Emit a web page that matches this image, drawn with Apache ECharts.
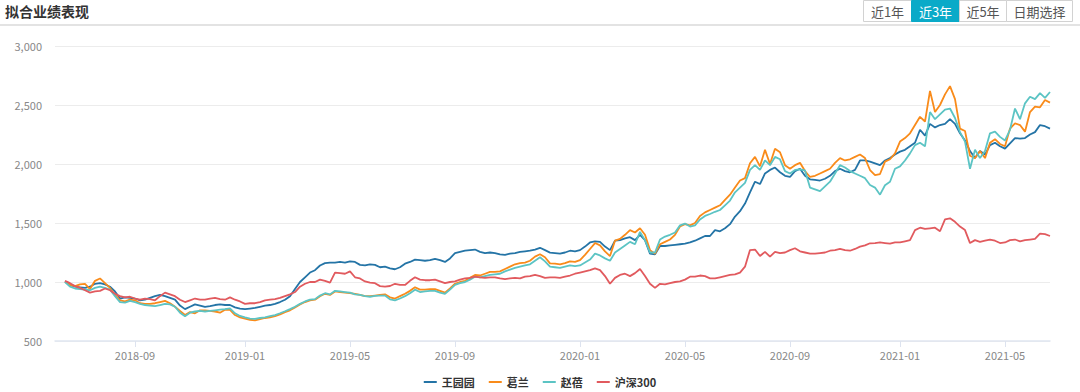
<!DOCTYPE html>
<html>
<head>
<meta charset="utf-8">
<script src="https://cdn.jsdelivr.net/npm/echarts@6/dist/echarts.min.js"></script>
<style>
  html, body { margin: 0; padding: 0; background: #fff; }
  #main { width: 1080px; height: 392px; }
</style>
</head>
<body>
<div id="main"></div>
<script>
// x 轴刻度（月初）及其所在的类目下标
const tickLabels = ['2018-09', '2019-01', '2019-05', '2019-09', '2020-01', '2020-05', '2020-09', '2021-01', '2021-05'];
const tickIndex = [16, 38, 59, 80, 105, 126, 147, 169, 190];
const pointCount = 200;
const leadGap = 2; // 数据开始前的空位

const seriesNames = ['王园园', '葛兰', '赵蓓', '沪深300'];

const wangYuanyuan = [
  1005, 975, 960, 955, 950, 960, 985, 990, 980, 960, 920, 860, 870, 865, 860, 845, 850, 865, 880, 890, 880, 865, 850, 800, 770, 790, 810, 800, 790, 795, 805, 810, 805,
  805, 785, 775, 770, 775, 780, 790, 800, 805, 815, 830, 850, 880, 940, 1000, 1040, 1080, 1100, 1140, 1160, 1165, 1165, 1170, 1165, 1175, 1170, 1145, 1140, 1150, 1145, 1125, 1130,
  1116, 1108, 1125, 1155, 1170, 1190, 1185, 1180, 1185, 1195, 1185, 1170, 1200, 1245, 1255, 1265, 1270, 1275, 1255, 1245, 1250, 1245, 1235, 1230, 1240, 1245, 1255, 1260, 1265, 1275, 1290, 1270,
  1249, 1245, 1240, 1250, 1265, 1260, 1270, 1300, 1335, 1345, 1340, 1300, 1270, 1350, 1355, 1370, 1380, 1355, 1400, 1355, 1240, 1235, 1305, 1305, 1310, 1315, 1320, 1325, 1335, 1350, 1370, 1390,
  1390, 1440, 1430, 1455, 1490, 1555, 1600, 1665, 1760, 1850, 1830, 1920, 1950, 1970, 1930, 1900, 1890, 1940, 1960, 1900, 1870, 1865, 1860, 1875, 1900, 1940, 1960, 1940, 1930, 1950, 2030, 2030,
  2020, 2005, 1990, 2030, 2050, 2080, 2105, 2120, 2150, 2180, 2290, 2240, 2340, 2310, 2330, 2340, 2380, 2340, 2260, 2200, 2110, 2050, 2110, 2080, 2160, 2180, 2150, 2130, 2175, 2220, 2215, 2220, 2250, 2270, 2330, 2320, 2300
];
const geLan = [
  1005, 975, 965, 980, 985, 940, 1010, 1030, 990, 950, 890, 845, 835, 850, 845, 820, 815, 815, 820, 830, 840, 820, 790, 755, 720, 745, 735, 760, 760, 755, 750, 740, 765,
  763, 720, 700, 690, 680, 675, 685, 695, 700, 710, 725, 745, 760, 785, 810, 830, 845, 850, 880, 900, 890, 920, 915, 910, 905, 900, 890, 880, 880, 885, 890, 895,
  870, 860, 880, 900, 925, 955, 935, 935, 940, 940, 925, 910, 945, 985, 1000, 1010, 1035, 1060, 1055, 1070, 1085, 1085, 1090, 1110, 1130, 1150, 1160, 1165, 1180, 1215, 1235, 1210,
  1158, 1155, 1150, 1160, 1175, 1170, 1185, 1230, 1280, 1330, 1310, 1260, 1220, 1350, 1365, 1400, 1440, 1420, 1455, 1400, 1270, 1240, 1320, 1340, 1360, 1400, 1470, 1490, 1480, 1500, 1560, 1590,
  1610, 1630, 1650, 1695, 1740, 1800, 1860, 1880, 2006, 2060, 1980, 2120, 2000, 2130, 2100, 1990, 1960, 1990, 2010, 1940, 1890, 1900, 1920, 1940, 1960, 2010, 2050, 2030, 2040, 2060, 2080, 2050,
  1949, 1905, 1915, 2020, 2040, 2090, 2190, 2220, 2260, 2330, 2400, 2360, 2620, 2440, 2500, 2590, 2660, 2550, 2300, 2280, 2070, 2050, 2110, 2050, 2180, 2210, 2170, 2150, 2300, 2345, 2330, 2274, 2440, 2486, 2480, 2542, 2520
];
const zhaoBei = [
  1000, 960, 945, 940, 935, 930, 950, 960, 950, 935, 880, 830, 825, 840, 830, 815, 805, 800, 795, 805, 815, 810, 790, 740, 710, 740, 750, 755, 750, 755, 760, 765, 770,
  777, 735, 712, 700, 690, 688, 695, 700, 710, 720, 735, 752, 770, 790, 815, 835, 850, 855, 885, 905, 895, 925, 920, 915, 910, 895, 890, 880, 875, 882, 885, 885,
  853, 845, 860, 880, 905, 935, 915, 920, 925, 925, 910, 900, 935, 975, 990, 1000, 1020, 1045, 1040, 1050, 1060, 1065, 1070, 1090, 1105, 1120, 1130, 1140, 1150, 1180, 1210, 1175,
  1130, 1125, 1120, 1130, 1140, 1135, 1140, 1165, 1190, 1240, 1225, 1200, 1180, 1250, 1280, 1310, 1340, 1320, 1425, 1355, 1250, 1250, 1360, 1385, 1400, 1420, 1480, 1495, 1470, 1480, 1530, 1560,
  1576, 1595, 1610, 1650, 1690, 1760, 1800, 1840, 1950, 1990, 1950, 2030, 1990, 2060, 2040, 1940, 1920, 1950, 1955, 1945, 1800, 1785, 1770, 1810, 1850, 1920, 1990, 1970, 1940, 1920, 1900, 1880,
  1822, 1800, 1740, 1820, 1850, 1960, 1980, 2030, 2090, 2160, 2180, 2150, 2440, 2380, 2420, 2460, 2470, 2390, 2270, 2190, 1960, 2120, 2050, 2110, 2260, 2275, 2230, 2200, 2290, 2470, 2380, 2514, 2570, 2550, 2600, 2560, 2610
];
const hs300 = [
  1010, 990, 965, 950, 930, 910, 920, 925, 945, 930, 900, 880, 870, 875, 860, 850, 860, 855, 845, 880, 910, 895, 880, 850, 830, 845, 860, 850, 850, 860, 865, 855, 850,
  870, 850, 835, 815, 820, 820, 830, 845, 850, 855, 865, 880, 895, 915, 960, 985, 1000, 1000, 1020, 1010, 995, 1080, 1075, 1070, 1090, 1040, 1030, 1005, 995, 990, 965, 960,
  966, 985, 975, 975, 1010, 1040, 1020, 1015, 1015, 1020, 1005, 990, 1000, 1005, 1020, 1030, 1035, 1045, 1040, 1035, 1040, 1040, 1030, 1025, 1030, 1035, 1030, 1045, 1050, 1060, 1050, 1035,
  1040, 1040, 1035, 1045, 1055, 1070, 1080, 1090, 1100, 1115, 1100, 1050, 985, 1035, 1060, 1070, 1050, 1075, 1110, 1050, 985, 950, 985, 980, 990, 1000, 1005, 1020, 1045, 1045, 1055, 1050,
  1031, 1030, 1040, 1050, 1060, 1065, 1080, 1130, 1271, 1275, 1220, 1255, 1215, 1255, 1245, 1250, 1270, 1286, 1260, 1250, 1240, 1240, 1245, 1250, 1265, 1270, 1280, 1270, 1265, 1280, 1300, 1310,
  1328, 1330, 1335, 1330, 1325, 1335, 1335, 1345, 1355, 1440, 1460, 1450, 1455, 1460, 1430, 1530, 1540, 1510, 1470, 1440, 1330, 1355, 1340, 1350, 1360, 1350, 1330, 1335, 1355, 1360, 1345, 1355, 1360, 1365, 1410, 1405, 1390
];

const colors = ['#2474a6', '#f98b1a', '#5cc4c4', '#e15a5e'];
const rangeButtons = ['近1年', '近3年', '近5年', '日期选择'];
const activeButton = 1;

// 类目日期：以各月初刻度为锚点分段推算
function buildDates() {
  const anchors = tickLabels.map((m, k) => ({ i: tickIndex[k], t: Date.parse(m + '-01') }));
  const out = [];
  for (let i = 0; i < pointCount; i++) {
    let k = 0;
    while (k < anchors.length - 2 && i >= anchors[k + 1].i) k++;
    const a = anchors[k], b = anchors[k + 1];
    const t = a.t + (i - a.i) * (b.t - a.t) / (b.i - a.i);
    out.push(new Date(t).toISOString().slice(0, 10));
  }
  return out;
}
const dates = buildDates();
const isTick = (idx) => tickIndex.indexOf(idx) >= 0;
const pad = (arr) => new Array(leadGap).fill(null).concat(arr);

const chart = echarts.init(document.getElementById('main'), null, { renderer: 'svg' });

// 右上角时间区间按钮
const btnWidths = [48, 48, 47, 66];
const buttons = [];
let bx = 863.5;
rangeButtons.forEach((label, i) => {
  const active = i === activeButton;
  buttons.push({
    type: 'rect',
    shape: { x: bx, y: 0.5, width: btnWidths[i], height: 21 },
    style: { fill: active ? '#0aaac8' : '#fff', stroke: active ? '#0aaac8' : '#d2d2d2', lineWidth: 1 }
  });
  buttons.push({
    type: 'text',
    x: bx + btnWidths[i] / 2,
    y: 11.5,
    style: {
      text: label,
      fill: active ? '#fff' : '#555',
      font: '13px "Noto Sans CJK SC", sans-serif',
      textAlign: 'center',
      textVerticalAlign: 'middle',
      verticalAlign: 'middle'
    }
  });
  bx += btnWidths[i];
});

const option = {
  animation: false,
  textStyle: { fontFamily: '"Noto Sans CJK SC", sans-serif' },
  color: colors,
  title: {
    text: '拟合业绩表现',
    left: 0,
    top: 0,
    padding: [4, 5],
    textStyle: { fontSize: 14, fontWeight: 'bold', color: '#333' }
  },
  graphic: [
    {
      type: 'line',
      shape: { x1: 0, y1: 25, x2: 1080, y2: 25 },
      style: { stroke: '#e3e3e3', lineWidth: 2 }
    }
  ].concat(buttons),
  legend: {
    data: seriesNames,
    left: 'center',
    top: 372,
    padding: [2, 5],
    icon: 'rect',
    itemWidth: 13,
    itemHeight: 2,
    itemGap: 14,
    textStyle: { fontSize: 11, fontWeight: 'bold', color: '#333', lineHeight: 16 }
  },
  grid: {
    left: 55,
    right: 30,
    top: 46,
    bottom: 51,
    containLabel: false,
    outerBoundsMode: 'none'
  },
  xAxis: {
    type: 'category',
    boundaryGap: false,
    data: dates,
    axisLine: { lineStyle: { color: '#e0e6f1', width: 1.5 } },
    axisTick: { interval: isTick, length: 6, lineStyle: { color: '#dde3ef' } },
    axisLabel: {
      interval: isTick,
      margin: 8,
      color: '#888',
      fontSize: 11,
      formatter: (v) => v.slice(0, 7)
    },
    splitLine: { show: false }
  },
  yAxis: {
    type: 'value',
    min: 500,
    max: 3000,
    interval: 500,
    axisLine: { show: false },
    axisTick: { show: false },
    axisLabel: {
      margin: 13,
      color: '#888',
      fontSize: 11,
      formatter: (v) => v.toLocaleString('en-US')
    },
    splitLine: { lineStyle: { color: '#ececec', width: 1 } }
  },
  series: [wangYuanyuan, geLan, zhaoBei, hs300].map((arr, i) => ({
    name: seriesNames[i],
    type: 'line',
    data: pad(arr),
    showSymbol: false,
    symbol: 'none',
    lineStyle: { width: 1.8 }
  }))
};

chart.setOption(option);
</script>
</body>
</html>
